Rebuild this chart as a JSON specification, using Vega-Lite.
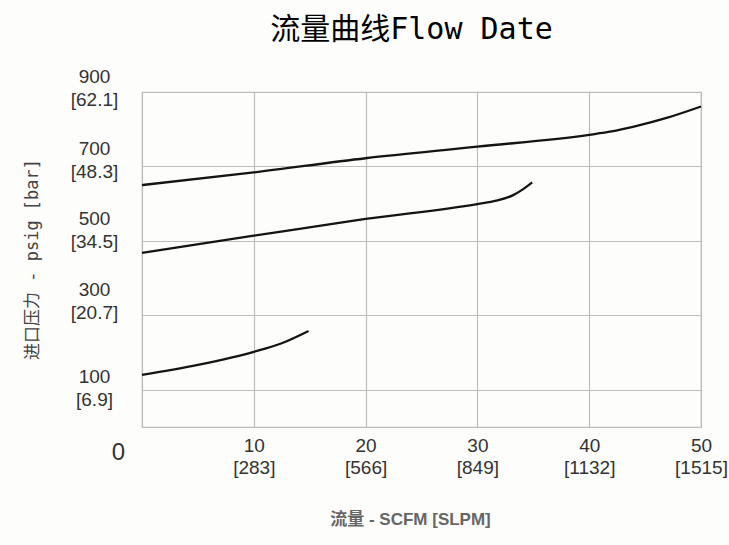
{
  "$schema": "https://vega.github.io/schema/vega-lite/v6.json",
  "width": 559,
  "height": 335,
  "autosize": {"type": "none"},
  "padding": {"left": 142, "top": 92, "right": 28, "bottom": 118},
  "background": "#fdfdfc",
  "title": {
    "text": "流量曲线Flow Date",
    "font": "DejaVu Sans Mono, Noto Sans CJK SC",
    "fontSize": 30,
    "fontWeight": "normal",
    "color": "#000000",
    "anchor": "middle",
    "dx": -10,
    "dy": -18
  },
  "config": {
    "view": {"stroke": "#bdbdbd", "strokeWidth": 1.2}
  },
  "data": {
    "values": [
      {"s": "A", "flow": 0, "psig": 650},
      {"s": "A", "flow": 10, "psig": 684},
      {"s": "A", "flow": 20, "psig": 722},
      {"s": "A", "flow": 30, "psig": 753},
      {"s": "A", "flow": 40, "psig": 785},
      {"s": "A", "flow": 42, "psig": 794},
      {"s": "A", "flow": 44, "psig": 807},
      {"s": "A", "flow": 47, "psig": 831},
      {"s": "A", "flow": 50, "psig": 861},
      {"s": "B", "flow": 0, "psig": 468},
      {"s": "B", "flow": 10, "psig": 514},
      {"s": "B", "flow": 20, "psig": 559},
      {"s": "B", "flow": 30, "psig": 599},
      {"s": "B", "flow": 31.7, "psig": 608},
      {"s": "B", "flow": 33.2, "psig": 623},
      {"s": "B", "flow": 34.1, "psig": 639},
      {"s": "B", "flow": 34.9, "psig": 657},
      {"s": "C", "flow": 0, "psig": 140},
      {"s": "C", "flow": 5, "psig": 167},
      {"s": "C", "flow": 10, "psig": 202},
      {"s": "C", "flow": 12.5, "psig": 225},
      {"s": "C", "flow": 14.9, "psig": 258}
    ]
  },
  "mark": {"type": "line", "interpolate": "monotone", "color": "#141414", "strokeWidth": 2.3},
  "encoding": {
    "detail": {"field": "s", "type": "nominal"},
    "x": {
      "field": "flow",
      "type": "quantitative",
      "scale": {"domain": [0, 50], "nice": false, "zero": false},
      "axis": {
        "values": [0, 10, 20, 30, 40, 50],
        "domain": false,
        "ticks": false,
        "grid": true,
        "gridColor": "#bdbdbd",
        "gridWidth": 1.2,
        "labelFont": "Liberation Sans, Arial, sans-serif",
        "labelFontSize": 19,
        "labelColor": "#333333",
        "labelLineHeight": 22,
        "labelPadding": 9,
        "labelFlush": false,
        "labelOverlap": false,
        "labelBound": false,
        "labelExpr": "datum.value===0?'':datum.value===10?['10','[283]']:datum.value===20?['20','[566]']:datum.value===30?['30','[849]']:datum.value===40?['40','[1132]']:['50','[1515]']",
        "title": "流量 - SCFM [SLPM]",
        "titleFont": "Liberation Sans, Noto Sans CJK SC, sans-serif",
        "titleFontSize": 17,
        "titleFontWeight": "bold",
        "titleColor": "#666666",
        "titleX": 268,
        "titleY": 92,
        "titleAlign": "center",
        "titleBaseline": "middle"
      }
    },
    "y": {
      "field": "psig",
      "type": "quantitative",
      "scale": {"domain": [0, 900], "nice": false},
      "axis": {
        "values": [0, 100, 300, 500, 700, 900],
        "domain": false,
        "ticks": false,
        "grid": true,
        "gridColor": "#bdbdbd",
        "gridWidth": 1.2,
        "labelFont": "Liberation Sans, Arial, sans-serif",
        "labelFontSize": {"condition": {"test": "datum.value===0", "value": 24}, "value": 19},
        "labelColor": "#333333",
        "labelLineHeight": 23,
        "labelAlign": "center",
        "labelBaseline": "middle",
        "labelPadding": {"condition": {"test": "datum.value===0", "value": 24}, "value": 48},
        "labelOffset": {
          "condition": [
            {"test": "datum.value===0", "value": 25},
            {"test": "datum.value===900", "value": -16},
            {"test": "datum.value===700", "value": -18},
            {"test": "datum.value===500", "value": -22},
            {"test": "datum.value===300", "value": -26},
            {"test": "datum.value===100", "value": -13}
          ],
          "value": 0
        },
        "labelFlush": false,
        "labelOverlap": false,
        "labelBound": false,
        "labelExpr": "datum.value===0?'0':datum.value===100?['100','[6.9]']:datum.value===300?['300','[20.7]']:datum.value===500?['500','[34.5]']:datum.value===700?['700','[48.3]']:['900','[62.1]']",
        "title": "进口压力 - psig [bar]",
        "titleFont": "DejaVu Sans Mono, Noto Sans CJK SC, monospace",
        "titleFontSize": 17,
        "titleFontWeight": "normal",
        "titleColor": "#444444",
        "titleX": -110,
        "titleY": 167,
        "titleAlign": "center",
        "titleBaseline": "middle",
        "titleAngle": -90
      }
    }
  }
}
